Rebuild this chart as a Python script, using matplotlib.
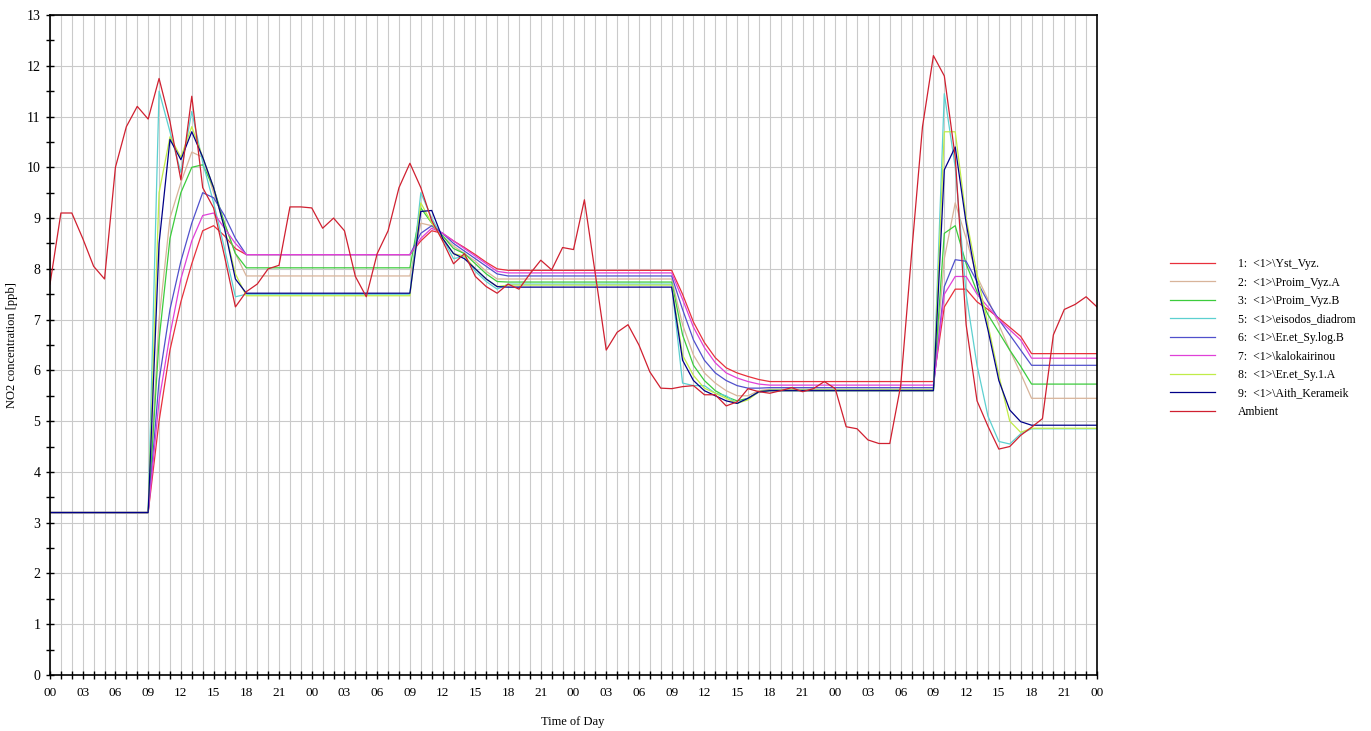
from matplotlib import pyplot as plt
from matplotlib.ticker import MultipleLocator, FuncFormatter
import numpy as np

"""Concentracion horaria de NO2 en las estaciones y el valor ambiente durante 4 dias"""

# Horas con dato de estacion (entre medias se mantiene el ultimo valor)
hours_obs = [0,
             9, 10, 11, 12, 13, 14, 15, 16, 17, 18,
             33, 34, 35, 36, 37, 38, 39, 40, 41, 42,
             57, 58, 59, 60, 61, 62, 63, 64, 65, 66,
             81, 82, 83, 84, 85, 86, 87, 88, 89, 90,
             96]

yst_vyz = [3.2,
           3.2, 5.0, 6.4, 7.35, 8.1, 8.75, 8.85, 8.65, 8.4, 8.28,
           8.28, 8.55, 8.75, 8.7, 8.55, 8.42, 8.28, 8.13, 8.0, 7.97,
           7.97, 7.5, 6.95, 6.55, 6.25, 6.05, 5.95, 5.88, 5.82, 5.78,
           5.78, 7.25, 7.6, 7.6, 7.35, 7.2, 7.03, 6.85, 6.67, 6.33,
           6.33]
proim_a = [3.2,
           3.2, 7.0, 9.0, 9.7, 10.3, 10.2, 9.5, 8.9, 8.3, 7.86,
           7.86, 8.9, 8.85, 8.65, 8.45, 8.3, 8.15, 7.95, 7.8, 7.8,
           7.8, 6.9, 6.3, 5.95, 5.75, 5.6, 5.5, 5.5, 5.6, 5.63,
           5.63, 8.2, 9.3, 8.6, 7.85, 7.4, 6.9, 6.4, 5.94, 5.45,
           5.45]
proim_b = [3.2,
           3.2, 6.6, 8.6, 9.5, 10.0, 10.05, 9.6, 8.9, 8.3, 8.02,
           8.02, 9.2, 8.9, 8.65, 8.4, 8.3, 8.1, 7.9, 7.75, 7.74,
           7.74, 6.7, 6.1, 5.8, 5.6, 5.48, 5.4, 5.45, 5.58, 5.61,
           5.61, 8.7, 8.85, 8.1, 7.55, 7.1, 6.75, 6.4, 6.08, 5.73,
           5.73]
eisodos = [3.2,
           3.2, 11.5, 10.7, 9.9, 11.1, 10.1, 9.3, 8.4, 7.45, 7.5,
           7.5, 9.5, 9.0, 8.6, 8.2, 8.25, 7.95, 7.75, 7.6, 7.7,
           7.7, 5.75, 5.7, 5.7, 5.55, 5.5, 5.35, 5.45, 5.57, 5.6,
           5.6, 11.45, 10.0, 7.5, 6.1, 5.1, 4.6, 4.55, 4.75, 4.85,
           4.85]
eret_logb = [3.2,
             3.2, 5.8, 7.2, 8.15, 8.9, 9.5, 9.4, 9.05, 8.6, 8.28,
             8.28, 8.7, 8.85, 8.7, 8.5, 8.35, 8.2, 8.05, 7.9, 7.86,
             7.86, 7.2, 6.6, 6.2, 5.95, 5.8, 5.7, 5.65, 5.65, 5.66,
             5.66, 7.65, 8.18, 8.15, 7.75, 7.35, 7.0, 6.7, 6.4, 6.1,
             6.1]
kalokairinou = [3.2,
                3.2, 5.4, 6.7, 7.8, 8.55, 9.05, 9.1, 8.8, 8.5, 8.28,
                8.28, 8.6, 8.8, 8.7, 8.55, 8.4, 8.25, 8.1, 7.95, 7.92,
                7.92, 7.4, 6.85, 6.45, 6.15, 5.95, 5.85, 5.78, 5.73, 5.71,
                5.71, 7.5, 7.85, 7.85, 7.5, 7.25, 7.0, 6.8, 6.6, 6.24,
                6.24]
eret_1a = [3.2,
           3.2, 9.5, 10.6, 10.2, 10.8, 10.2, 9.6, 8.8, 7.9, 7.47,
           7.47, 9.3, 8.9, 8.6, 8.3, 8.25, 8.0, 7.8, 7.65, 7.68,
           7.68, 6.3, 5.9, 5.65, 5.55, 5.45, 5.35, 5.42, 5.58, 5.6,
           5.6, 10.7, 10.7, 9.0, 7.9, 6.9, 5.9, 5.0, 4.78, 4.86,
           4.86]
aith_kerameik = [3.2,
                 3.2, 8.5, 10.55, 10.15, 10.7, 10.2, 9.6, 8.8, 7.8, 7.52,
                 7.52, 9.13, 9.15, 8.6, 8.3, 8.2, 8.0, 7.8, 7.65, 7.64,
                 7.64, 6.2, 5.8, 5.6, 5.5, 5.4, 5.35, 5.45, 5.58, 5.6,
                 5.6, 9.95, 10.4, 8.9, 7.7, 6.8, 5.8, 5.22, 4.99, 4.92,
                 4.92]

# Ambiente: un valor por hora (0..96)
ambient = [7.7, 9.1, 9.1, 8.6, 8.05, 7.8, 10.0, 10.8, 11.2, 10.95,
           11.75, 10.9, 9.75, 11.4, 9.6, 9.2, 8.25, 7.25, 7.55, 7.7,
           8.0, 8.07, 9.22, 9.22, 9.2, 8.8, 9.0, 8.75, 7.85, 7.45,
           8.3, 8.75, 9.6, 10.08, 9.6, 8.95, 8.55, 8.1, 8.3, 7.85,
           7.65, 7.52, 7.7, 7.6, 7.9, 8.17, 7.98, 8.42, 8.38, 9.36,
           7.9, 6.4, 6.75, 6.9, 6.5, 5.97, 5.65, 5.64, 5.68, 5.7,
           5.52, 5.52, 5.3, 5.38, 5.64, 5.58, 5.55, 5.6, 5.66, 5.58,
           5.64, 5.78, 5.64, 4.89, 4.85, 4.63, 4.56, 4.56, 5.7, 8.3,
           10.8, 12.2, 11.8, 10.2, 6.9, 5.4, 4.9, 4.45, 4.5, 4.72,
           4.88, 5.05, 6.7, 7.2, 7.3, 7.45, 7.25]
hours_amb = np.arange(len(ambient))

stations = [
    (yst_vyz, "1:  <1>\\Yst_Vyz.", "#e8303c"),
    (proim_a, "2:  <1>\\Proim_Vyz.A", "#d8b49a"),
    (proim_b, "3:  <1>\\Proim_Vyz.B", "#3ccc3c"),
    (eisodos, "5:  <1>\\eisodos_diadrom", "#5cd0d0"),
    (eret_logb, "6:  <1>\\Er.et_Sy.log.B", "#5050cc"),
    (kalokairinou, "7:  <1>\\kalokairinou", "#e040d8"),
    (eret_1a, "8:  <1>\\Er.et_Sy.1.A", "#c0ec48"),
    (aith_kerameik, "9:  <1>\\Aith_Kerameik", "#000088"),
]

plt.rcParams['font.family'] = ['Liberation Serif', 'DejaVu Serif']

fig = plt.figure(figsize=(13.71, 7.31), dpi=100)
ax = fig.add_axes([50 / 1371, 1 - 675 / 731, 1047 / 1371, 660 / 731])

for vals, lab, col in stations:
    ax.plot(hours_obs, vals, color=col, lw=0.9, label=lab)
ax.plot(hours_amb, ambient, color="#d02030", lw=0.9, label="Ambient")

ax.set_xlim(0, 96)
ax.set_ylim(0, 13)

# Rejilla vertical cada hora, horizontal cada unidad
ax.xaxis.set_major_locator(MultipleLocator(1))
ax.xaxis.set_major_formatter(FuncFormatter(
    lambda v, p: "%02d" % (int(round(v)) % 24) if int(round(v)) % 3 == 0 else ""))
ax.yaxis.set_major_locator(MultipleLocator(1))
ax.yaxis.set_minor_locator(MultipleLocator(0.5))
ax.grid(True, which='major', color="#cacaca", lw=0.8)
ax.set_axisbelow(True)

ax.tick_params(axis='x', which='major', direction='inout', length=6, width=1,
               pad=6, labelsize=9.5)
ax.tick_params(axis='y', which='major', direction='inout', length=6, width=1,
               pad=4, labelsize=10)
ax.tick_params(axis='y', which='minor', direction='inout', length=6, width=1)
for s in ax.spines.values():
    s.set_color("black")
    s.set_linewidth(1.2)

ax.set_xlabel("Time of Day", fontsize=9)
ax.set_ylabel("NO2 concentration [ppb]", fontsize=9)
ax.xaxis.set_label_coords(0.4995, -0.062)
ax.yaxis.set_label_coords(-0.0306, 0.5)

ax.legend(loc='upper left', bbox_to_anchor=(0.849, 0.655),
          bbox_transform=fig.transFigure, frameon=False, fontsize=8.5,
          handlelength=3.8, handletextpad=2.0, labelspacing=0.55, borderpad=0)

plt.savefig("out.png", dpi=100)
